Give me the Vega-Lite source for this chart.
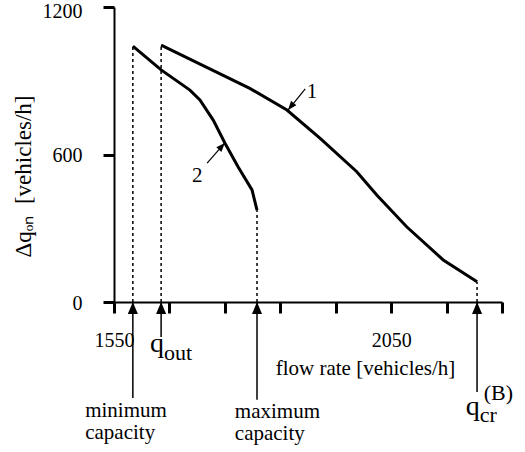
{
  "$schema": "https://vega.github.io/schema/vega-lite/v6.json",
  "autosize": {"type": "none"},
  "width": 388,
  "height": 295,
  "padding": {"left": 114, "top": 7, "right": 23, "bottom": 150},
  "background": "white",
  "config": {
    "view": {"stroke": null},
    "font": "Liberation Serif, Times New Roman, serif",
    "axis": {
      "grid": false,
      "domainColor": "black",
      "domainWidth": 2,
      "tickColor": "black",
      "tickWidth": 3,
      "tickSize": 11,
      "labelColor": "black",
      "titleColor": "black",
      "labelFont": "Liberation Serif, Times New Roman, serif",
      "titleFont": "Liberation Serif, Times New Roman, serif",
      "labelFontSize": 20,
      "titleFontWeight": "normal"
    },
    "text": {"font": "Liberation Serif, Times New Roman, serif", "color": "black"}
  },
  "datasets": {
    "curves": [
      {"curve": "1", "flow": 1635, "dq": 1045},
      {"curve": "1", "flow": 1795, "dq": 869},
      {"curve": "1", "flow": 1862, "dq": 781},
      {"curve": "1", "flow": 1922, "dq": 666},
      {"curve": "1", "flow": 1988, "dq": 530},
      {"curve": "1", "flow": 2024, "dq": 435},
      {"curve": "1", "flow": 2078, "dq": 306},
      {"curve": "1", "flow": 2144, "dq": 171},
      {"curve": "1", "flow": 2205, "dq": 82},
      {"curve": "2", "flow": 1584, "dq": 1041},
      {"curve": "2", "flow": 1635, "dq": 944},
      {"curve": "2", "flow": 1687, "dq": 862},
      {"curve": "2", "flow": 1705, "dq": 822},
      {"curve": "2", "flow": 1729, "dq": 740},
      {"curve": "2", "flow": 1750, "dq": 647},
      {"curve": "2", "flow": 1774, "dq": 549},
      {"curve": "2", "flow": 1799, "dq": 456},
      {"curve": "2", "flow": 1808, "dq": 374}
    ],
    "guides": [
      {"mark": "minimum capacity", "flow": 1584, "dq": 0, "dq2": 1041},
      {"mark": "q_out", "flow": 1635, "dq": 0, "dq2": 1045},
      {"mark": "maximum capacity", "flow": 1808, "dq": 0, "dq2": 374},
      {"mark": "q_cr", "flow": 2205, "dq": 0, "dq2": 82}
    ],
    "axisArrows": [
      {"mark": "minimum capacity", "flow": 1584, "dq": -390, "dq2": 0},
      {"mark": "q_out", "flow": 1635, "dq": -142, "dq2": 0},
      {"mark": "maximum capacity", "flow": 1808, "dq": -398, "dq2": 0},
      {"mark": "q_cr", "flow": 2205, "dq": -366, "dq2": 0}
    ],
    "axisHeads": [
      {"mark": "minimum capacity", "flow": 1584, "dq": 0},
      {"mark": "q_out", "flow": 1635, "dq": 0},
      {"mark": "maximum capacity", "flow": 1808, "dq": 0},
      {"mark": "q_cr", "flow": 2205, "dq": 0}
    ],
    "pointers": [
      {"curve": "1", "flow": 1895, "dq": 867, "flow2": 1864, "dq2": 781},
      {"curve": "2", "flow": 1718, "dq": 565, "flow2": 1750, "dq2": 647}
    ],
    "pointerHeads": [
      {"curve": "1", "flow": 1864, "dq": 781},
      {"curve": "2", "flow": 1750, "dq": 647}
    ],
    "curveLabels": [
      {"flow": 1907, "dq": 856, "text": "1"},
      {"flow": 1700, "dq": 513, "text": "2"}
    ],
    "capacityLabels": [
      {"flow": 1498, "dq": -468, "text": "minimum\ncapacity"},
      {"flow": 1768, "dq": -472, "text": "maximum\ncapacity"}
    ],
    "qLetters": [
      {"flow": 1640, "dq": -203, "text": "q"},
      {"flow": 2210, "dq": -460, "text": "q"}
    ],
    "qSubscripts": [
      {"flow": 1640, "dq": -236, "text": "out"},
      {"flow": 2210, "dq": -488, "text": "cr"}
    ],
    "qSuperscripts": [
      {"flow": 2217, "dq": -398, "text": "(B)"}
    ]
  },
  "encoding": {
    "x": {
      "field": "flow",
      "type": "quantitative",
      "scale": {"domain": [1550, 2250], "nice": false, "zero": false},
      "axis": {
        "title": "flow rate [vehicles/h]",
        "values": [1550, 1650, 1750, 1850, 1950, 2050, 2150, 2250],
        "format": "d",
        "labelExpr": "datum.value == 1550 || datum.value == 2050 ? datum.label : ''",
        "labelOverlap": false,
        "labelFlush": false,
        "labelBaseline": "top",
        "labelPadding": 17,
        "titleFontSize": 21,
        "titleX": 251,
        "titleY": 72,
        "titleAlign": "center",
        "titleBaseline": "alphabetic"
      }
    },
    "y": {
      "field": "dq",
      "type": "quantitative",
      "scale": {"domain": [0, 1200], "nice": false, "zero": false},
      "axis": {
        "title": "Δqₒₙ\u2002[vehicles/h]",
        "values": [0, 600, 1200],
        "format": "d",
        "labelPadding": 21,
        "labelOffset": {"condition": {"test": "datum.value == 1200", "value": 4}, "value": 1},
        "titleFontSize": 23,
        "titleAngle": -90,
        "titleX": -84,
        "titleY": 169,
        "titleAlign": "center",
        "titleBaseline": "alphabetic"
      }
    }
  },
  "layer": [
    {
      "data": {"name": "guides"},
      "mark": {"type": "rule", "color": "black", "strokeWidth": 1.5, "strokeDash": [3, 3]},
      "encoding": {"y2": {"field": "dq2"}}
    },
    {
      "data": {"name": "axisArrows"},
      "mark": {"type": "rule", "color": "black", "strokeWidth": 1.5},
      "encoding": {"y2": {"field": "dq2"}}
    },
    {
      "data": {"name": "axisHeads"},
      "mark": {"type": "point", "shape": "M0,0L-0.42,1L0.42,1Z", "size": 576, "filled": true, "color": "black", "opacity": 1, "strokeWidth": 0}
    },
    {
      "data": {"name": "curves"},
      "mark": {"type": "line", "color": "black", "strokeWidth": 3},
      "encoding": {"detail": {"field": "curve"}}
    },
    {
      "data": {"name": "pointers"},
      "mark": {"type": "rule", "color": "black", "strokeWidth": 1.2},
      "encoding": {"x2": {"field": "flow2"}, "y2": {"field": "dq2"}}
    },
    {
      "data": {"name": "pointerHeads"},
      "transform": [{"filter": "datum.curve == '1'"}],
      "mark": {"type": "point", "shape": "M0,0L-0.38,1L0.38,1Z", "size": 324, "angle": 219, "filled": true, "color": "black", "opacity": 1, "strokeWidth": 0}
    },
    {
      "data": {"name": "pointerHeads"},
      "transform": [{"filter": "datum.curve == '2'"}],
      "mark": {"type": "point", "shape": "M0,0L-0.38,1L0.38,1Z", "size": 324, "angle": 42, "filled": true, "color": "black", "opacity": 1, "strokeWidth": 0}
    },
    {
      "data": {"name": "curveLabels"},
      "mark": {"type": "text", "font": "Liberation Serif, Times New Roman, serif", "fontSize": 21, "align": "center", "baseline": "middle"},
      "encoding": {"text": {"field": "text"}}
    },
    {
      "data": {"name": "capacityLabels"},
      "mark": {"type": "text", "font": "Liberation Serif, Times New Roman, serif", "fontSize": 21, "align": "left", "baseline": "alphabetic", "lineBreak": "\n", "lineHeight": 22},
      "encoding": {"text": {"field": "text"}}
    },
    {
      "data": {"name": "qLetters"},
      "mark": {"type": "text", "font": "Liberation Serif, Times New Roman, serif", "fontSize": 28, "align": "right", "baseline": "alphabetic"},
      "encoding": {"text": {"field": "text"}}
    },
    {
      "data": {"name": "qSubscripts"},
      "mark": {"type": "text", "font": "Liberation Serif, Times New Roman, serif", "fontSize": 22, "align": "left", "baseline": "alphabetic"},
      "encoding": {"text": {"field": "text"}}
    },
    {
      "data": {"name": "qSuperscripts"},
      "mark": {"type": "text", "font": "Liberation Serif, Times New Roman, serif", "fontSize": 22, "align": "left", "baseline": "alphabetic"},
      "encoding": {"text": {"field": "text"}}
    }
  ]
}
